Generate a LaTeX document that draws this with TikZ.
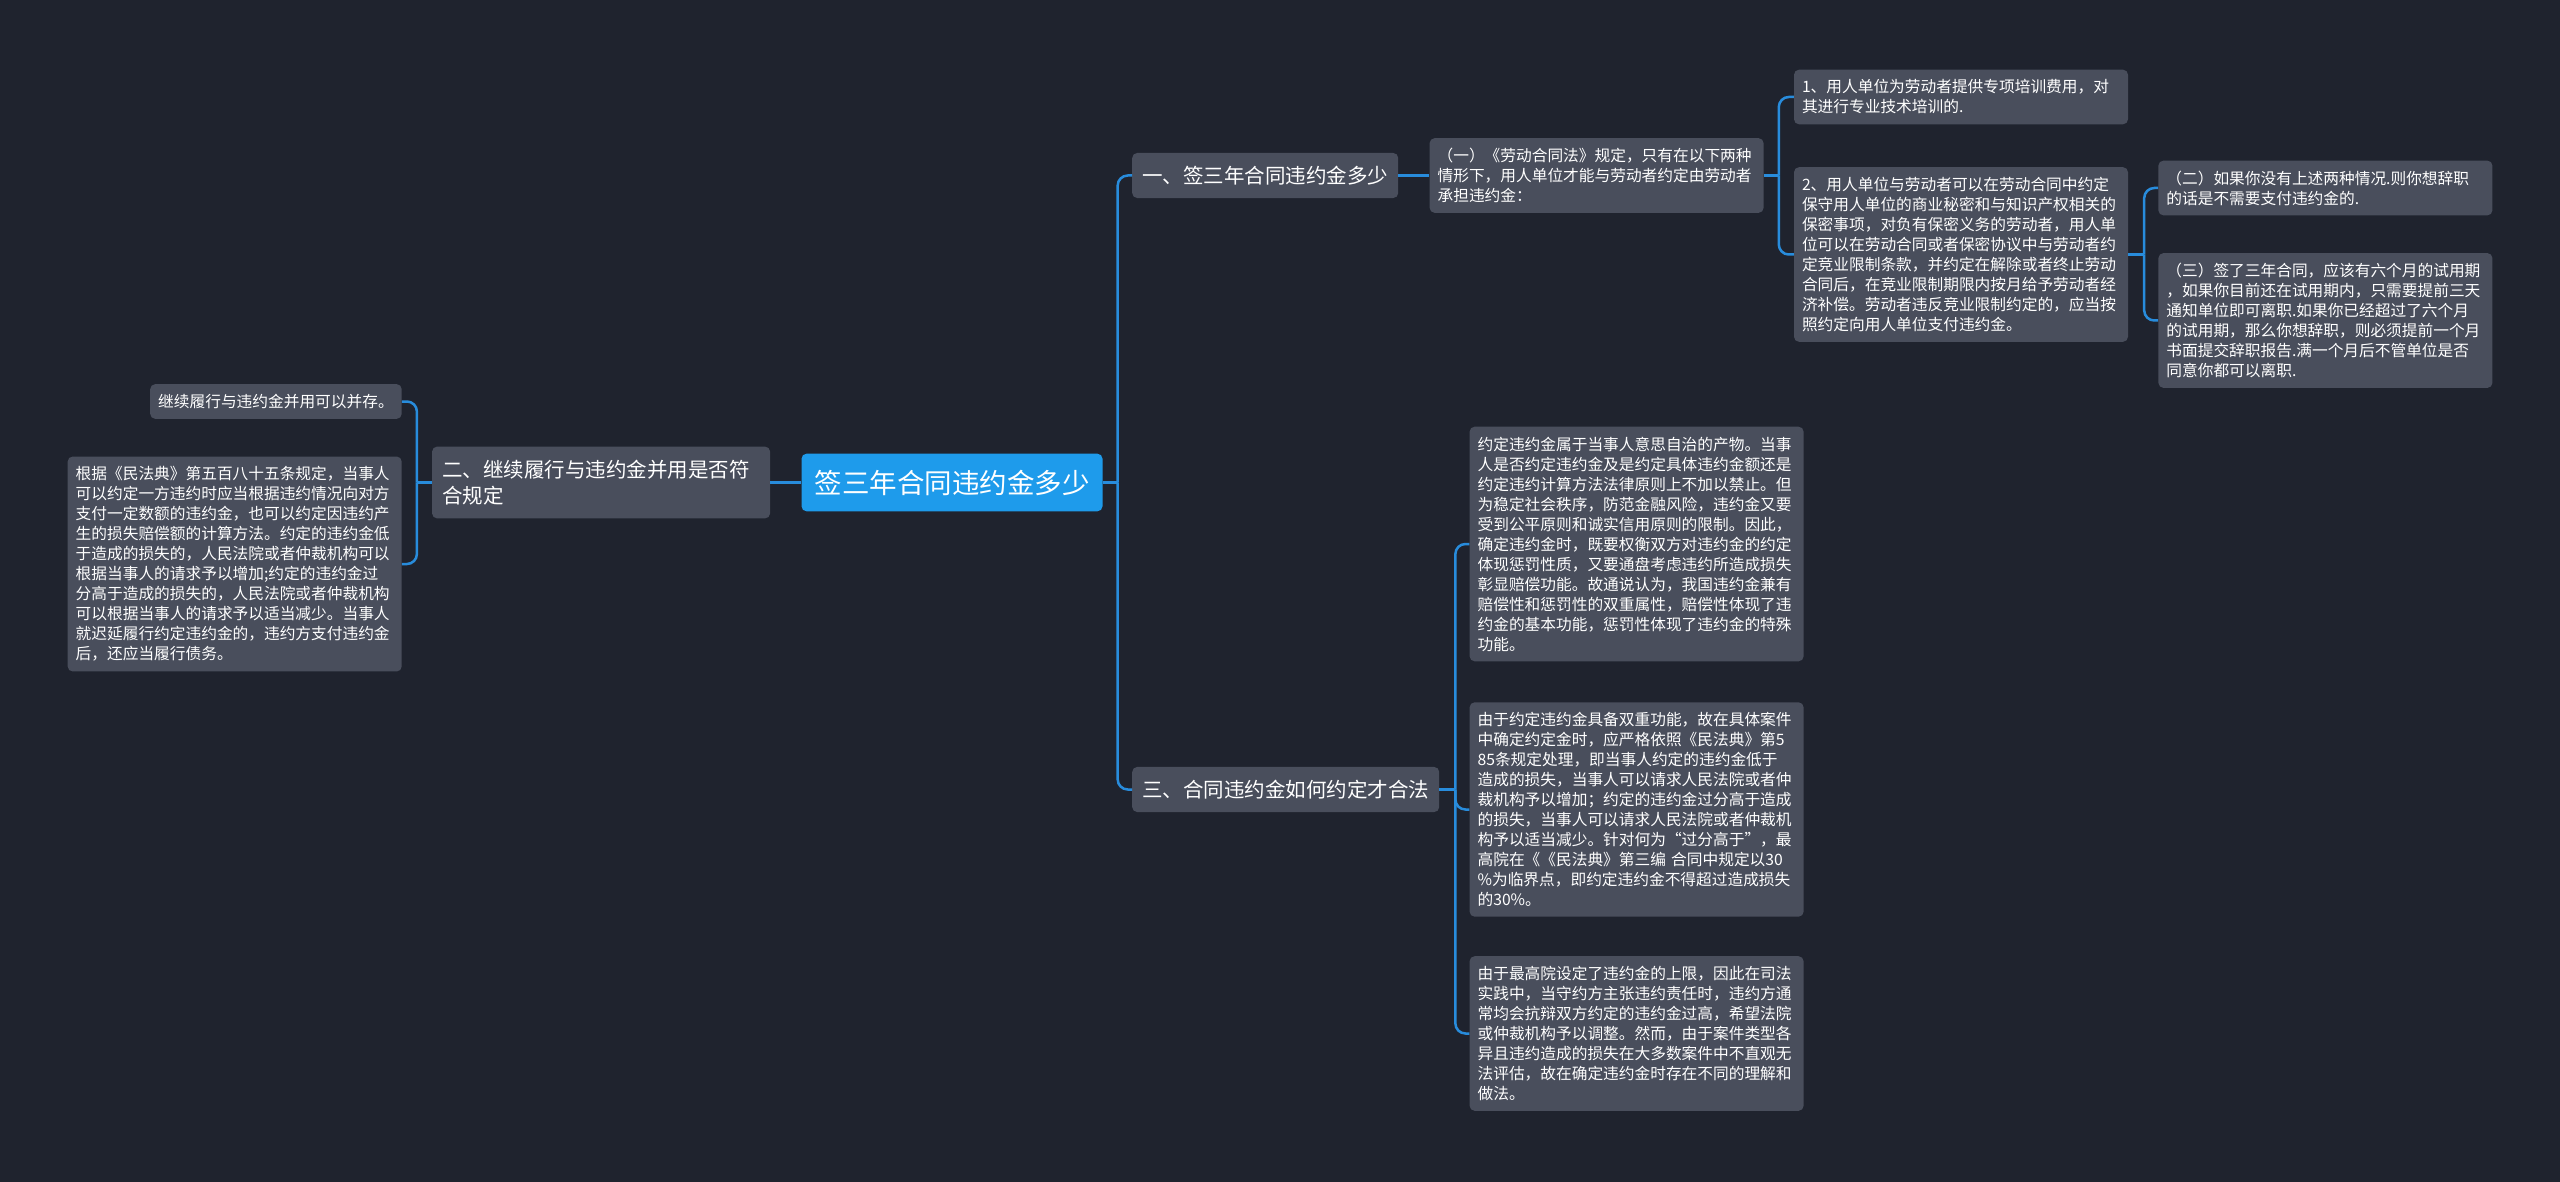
\documentclass[tikz,border=0pt]{standalone}
\usepackage{fontspec}
\setmainfont{Noto Sans CJK SC}
\usepackage{xcolor}
\usepackage{tikz}
\usetikzlibrary{positioning}
\definecolor{nightbg}{RGB}{31,35,46}
\definecolor{slatebox}{RGB}{73,78,92}
\definecolor{rootblue}{RGB}{30,155,235}
\definecolor{branchblue}{RGB}{40,140,220}

\begin{document}
\begin{tikzpicture}[x=1pt, y=-1pt, node distance=30pt, every node/.style={font=\fontsize{15.7}{20}\selectfont, text=white}]
  \tikzstyle{rootbox}=[rectangle, rounded corners=5pt, fill=rootblue, inner xsep=13pt, inner ysep=16pt, font=\fontsize{27.5}{33}\selectfont]
  \tikzstyle{topic}=[rectangle, rounded corners=5pt, fill=slatebox, inner xsep=10pt, inner ysep=13pt, align=left, font=\fontsize{20.5}{26.7}\selectfont]
  \tikzstyle{note}=[rectangle, rounded corners=5pt, fill=slatebox, inner xsep=8pt, inner ysep=10pt, align=left]
  \tikzstyle{leaf}=[note, text width=318pt]
  \tikzstyle{link}=[draw=branchblue, line width=2.5pt, rounded corners=10pt]
  \path[fill=nightbg, use as bounding box] (0,0) rectangle (2560,1182);

  \node[rootbox] (root) at (952,482.5) {签三年合同违约金多少};
  \node[topic, text width=318pt, left=31pt of root] (t2) {二、继续履行与违约金并用是否符\\合规定};
  \node[topic, anchor=west] (t1) at (1132,175.5) {一、签三年合同违约金多少};
  \node[topic, anchor=west] (t3) at (1132,789.5) {三、合同违约金如何约定才合法};

  \node[leaf, right=31pt of t1] (q1) {（一）《劳动合同法》规定，只有在以下两种\\情形下，用人单位才能与劳动者约定由劳动者\\承担违约金：};
  \node[leaf, right=of q1, yshift=78.5pt] (a1) {1、用人单位为劳动者提供专项培训费用，对\\其进行专业技术培训的.};
  \node[leaf, right=of q1, yshift=-79pt] (a2) {2、用人单位与劳动者可以在劳动合同中约定\\保守用人单位的商业秘密和与知识产权相关的\\保密事项，对负有保密义务的劳动者，用人单\\位可以在劳动合同或者保密协议中与劳动者约\\定竞业限制条款，并约定在解除或者终止劳动\\合同后，在竞业限制期限内按月给予劳动者经\\济补偿。劳动者违反竞业限制约定的，应当按\\照约定向用人单位支付违约金。};
  \node[leaf, right=of a2, yshift=66.5pt] (b1) {（二）如果你没有上述两种情况.则你想辞职\\的话是不需要支付违约金的.};
  \node[leaf, right=of a2, yshift=-66pt] (b2) {（三）签了三年合同，应该有六个月的试用期\\，如果你目前还在试用期内，只需要提前三天\\通知单位即可离职.如果你已经超过了六个月\\的试用期，那么你想辞职，则必须提前一个月\\书面提交辞职报告.满一个月后不管单位是否\\同意你都可以离职.};

  \node[leaf, right=of t3, yshift=245.5pt] (c1) {约定违约金属于当事人意思自治的产物。当事\\人是否约定违约金及是约定具体违约金额还是\\约定违约计算方法法律原则上不加以禁止。但\\为稳定社会秩序，防范金融风险，违约金又要\\受到公平原则和诚实信用原则的限制。因此，\\确定违约金时，既要权衡双方对违约金的约定\\体现惩罚性质，又要通盘考虑违约所造成损失\\彰显赔偿功能。故通说认为，我国违约金兼有\\赔偿性和惩罚性的双重属性，赔偿性体现了违\\约金的基本功能，惩罚性体现了违约金的特殊\\功能。};
  \node[leaf, right=of t3, yshift=-20pt] (c2) {由于约定违约金具备双重功能，故在具体案件\\中确定约定金时，应严格依照《民法典》第5\\85条规定处理，即当事人约定的违约金低于\\造成的损失，当事人可以请求人民法院或者仲\\裁机构予以增加；约定的违约金过分高于造成\\的损失，当事人可以请求人民法院或者仲裁机\\构予以适当减少。针对何为“过分高于”，最\\高院在《《民法典》第三编 合同中规定以30\\\%为临界点，即约定违约金不得超过造成损失\\的30\%。};
  \node[leaf, right=of t3, yshift=-244pt] (c3) {由于最高院设定了违约金的上限，因此在司法\\实践中，当守约方主张违约责任时，违约方通\\常均会抗辩双方约定的违约金过高，希望法院\\或仲裁机构予以调整。然而，由于案件类型各\\异且违约造成的损失在大多数案件中不直观无\\法评估，故在确定违约金时存在不同的理解和\\做法。};

  \node[note, left=of t2, yshift=81pt] (d1) {继续履行与违约金并用可以并存。};
  \node[leaf, left=of t2, yshift=-81.5pt] (d2) {根据《民法典》第五百八十五条规定，当事人\\可以约定一方违约时应当根据违约情况向对方\\支付一定数额的违约金，也可以约定因违约产\\生的损失赔偿额的计算方法。约定的违约金低\\于造成的损失的，人民法院或者仲裁机构可以\\根据当事人的请求予以增加;约定的违约金过\\分高于造成的损失的，人民法院或者仲裁机构\\可以根据当事人的请求予以适当减少。当事人\\就迟延履行约定违约金的，违约方支付违约金\\后，还应当履行债务。};

  \draw[link] (root.west) -- (t2.east);
  \draw[link] (t2.west) -- ++(-15,0) coordinate (lj);
  \draw[link] (lj) |- (d1.east);
  \draw[link] (lj) |- (d2.east);
  \draw[link] (root.east) -- ++(15,0) coordinate (rj);
  \draw[link] (rj) |- (t1.west);
  \draw[link] (rj) |- (t3.west);
  \draw[link] (t1.east) -- (q1.west);
  \draw[link] (q1.east) -- ++(15,0) coordinate (qj);
  \draw[link] (qj) |- (a1.west);
  \draw[link] (qj) |- (a2.west);
  \draw[link] (a2.east) -- ++(16,0) coordinate (aj);
  \draw[link] (aj) |- (b1.west);
  \draw[link] (aj) |- (b2.west);
  \draw[link] (t3.east) -- ++(16,0) coordinate (tj);
  \draw[link] (tj) |- (c1.west);
  \draw[link] (tj) |- (c2.west);
  \draw[link] (tj) |- (c3.west);
\end{tikzpicture}
\end{document}
